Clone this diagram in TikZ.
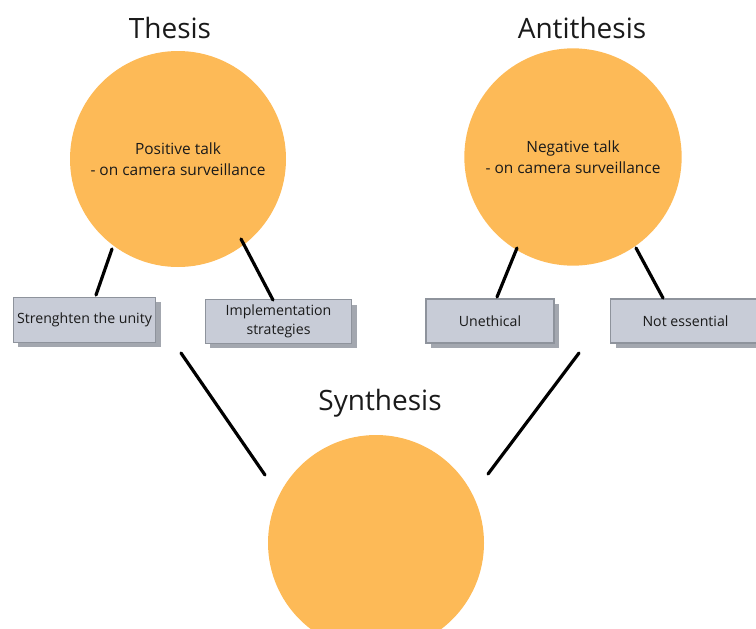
\documentclass[tikz,border=0pt]{standalone}
\usepackage{fontspec}
\setmainfont{Open Sans}
\usetikzlibrary{shadows}
\definecolor{disc}{HTML}{FDBA57}
\definecolor{boxfill}{HTML}{C8CCD7}
\definecolor{boxline}{HTML}{8E939C}
\definecolor{boxshade}{HTML}{A3A7AF}
\definecolor{ink}{HTML}{1A1A1A}
\tikzset{
  title/.style={font=\fontsize{21}{25}\selectfont, text=ink},
  disctext/.style={circle, fill=disc, minimum size=162pt, inner sep=0pt,
    align=center, font=\fontsize{11.6}{15.5}\selectfont, text=ink},
  label box/.style={rectangle, fill=boxfill, draw=boxline, line width=0.9pt,
    align=center, inner sep=0pt, font=\fontsize{10.6}{14}\selectfont, text=ink,
    general shadow={fill=boxshade, shadow xshift=3.6pt, shadow yshift=-3.6pt}},
  link/.style={line width=2.4pt, line cap=round, draw=black}
}
\begin{document}
\begin{tikzpicture}[x=0.75pt, y=-0.75pt]
  \useasboundingbox (0,0) rectangle (756,628);

  % headings
  \node[title] (tht) at (170,28) {Thesis};
  \node[title] (antt) at (582,28) {Antithesis};
  \node[title] (synt) at (380,403) {Synthesis};

  % the three discs
  \node[disctext] (thesis) at (178,159) {Positive talk\\- on camera surveillance};
  \node[disctext, minimum size=163pt] (anti) at (573,157) {Negative talk\\- on camera surveillance};
  \node[disctext] (synth) at (376,543) {};

  % argument boxes
  \node[label box, minimum width=107pt, minimum height=34pt] (unity) at (84.5,320) {Strenghten the unity};
  \node[label box, minimum width=110pt, minimum height=32.5pt] (impl) at (278.5,321.5) {Implementation\\strategies};
  \node[label box, minimum width=96pt, minimum height=33pt] (uneth) at (490,321) {Unethical};
  \node[label box, minimum width=112pt, minimum height=33pt] (notess) at (685.5,321) {Not essential};

  % loose ends of the connectors
  \coordinate (a1) at (112,249);  \coordinate (a2) at (96,295);
  \coordinate (b1) at (241,239);  \coordinate (b2) at (273,300);
  \coordinate (c1) at (517,248);  \coordinate (c2) at (497,297);
  \coordinate (d1) at (636,248);  \coordinate (d2) at (663,298);
  \coordinate (e1) at (181,353);  \coordinate (e2) at (265,475);
  \coordinate (f1) at (579,353);  \coordinate (f2) at (488,474);

  \draw[link] (a1) -- (a2);
  \draw[link] (b1) -- (b2);
  \draw[link] (c1) -- (c2);
  \draw[link] (d1) -- (d2);
  \draw[link] (e1) -- (e2);
  \draw[link] (f1) -- (f2);
\end{tikzpicture}
\end{document}
